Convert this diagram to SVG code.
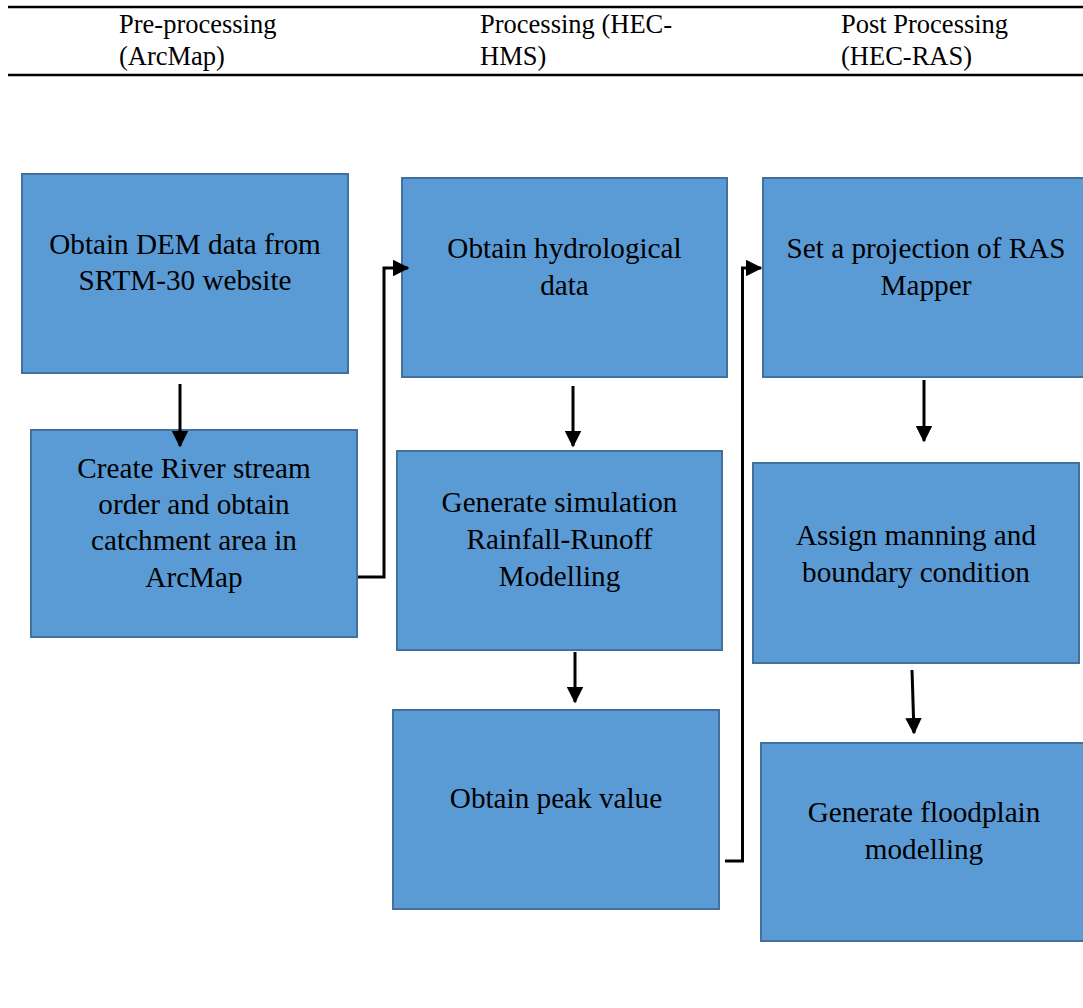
<svg xmlns="http://www.w3.org/2000/svg" width="1083" height="1008" viewBox="0 0 1083 1008" font-family="Liberation Serif, Times New Roman, serif">
<style>
.box{fill:#5B9BD5;stroke:#41719C;stroke-width:2}
.t{font-size:29.2px;fill:#000;text-anchor:middle}
.h{font-size:26.5px;fill:#000}
.c{fill:none;stroke:#000;stroke-width:3}
</style>
<defs>
<marker id="ah" markerWidth="5.5" markerHeight="5.5" refX="5" refY="2.75" orient="auto" markerUnits="strokeWidth">
<path d="M0,0 L5.5,2.75 L0,5.5 Z" fill="#000"/>
</marker>
</defs>
<rect width="1083" height="1008" fill="#fff"/>
<g id="header">
<line x1="8" y1="7" x2="1083" y2="7" stroke="#000" stroke-width="2.5"/>
<line x1="8" y1="75" x2="1083" y2="75" stroke="#000" stroke-width="2.5"/>
<text class="h" x="119" y="33">Pre-processing</text>
<text class="h" x="119" y="65">(ArcMap)</text>
<text class="h" x="480" y="33">Processing (HEC-</text>
<text class="h" x="480" y="65">HMS)</text>
<text class="h" x="841" y="33">Post Processing</text>
<text class="h" x="841" y="65">(HEC-RAS)</text>
</g>
<g id="n1"><rect class="box" x="22" y="174" width="326" height="199"/>
<text class="t" x="185" y="254">Obtain DEM data from</text><text class="t" x="185" y="290">SRTM-30 website</text></g>
<g id="n2"><rect class="box" x="31" y="430" width="326" height="207"/>
<text class="t" x="194" y="478">Create River stream</text><text class="t" x="194" y="514">order and obtain</text><text class="t" x="194" y="550">catchment area in</text><text class="t" x="194" y="587">ArcMap</text></g>
<g id="n3"><rect class="box" x="402" y="178" width="325" height="199"/>
<text class="t" x="564.5" y="258">Obtain hydrological</text><text class="t" x="564.5" y="295">data</text></g>
<g id="n4"><rect class="box" x="397" y="451" width="325" height="199"/>
<text class="t" x="559.5" y="512">Generate simulation</text><text class="t" x="559.5" y="549">Rainfall-Runoff</text><text class="t" x="559.5" y="586">Modelling</text></g>
<g id="n5"><rect class="box" x="393" y="710" width="326" height="199"/>
<text class="t" x="556" y="808">Obtain peak value</text></g>
<g id="n6"><rect class="box" x="763" y="178" width="326" height="199"/>
<text class="t" x="926" y="258">Set a projection of RAS</text><text class="t" x="926" y="295">Mapper</text></g>
<g id="n7"><rect class="box" x="753" y="463" width="326" height="200"/>
<text class="t" x="916" y="545">Assign manning and</text><text class="t" x="916" y="582">boundary condition</text></g>
<g id="n8"><rect class="box" x="761" y="743" width="326" height="198"/>
<text class="t" x="924" y="822">Generate floodplain</text><text class="t" x="924" y="859">modelling</text></g>
<g id="connectors">
<path class="c" d="M180,384 V446" marker-end="url(#ah)"/>
<path class="c" d="M573,386 V446" marker-end="url(#ah)"/>
<path class="c" d="M575,652 V702" marker-end="url(#ah)"/>
<path class="c" d="M924,380 V441" marker-end="url(#ah)"/>
<path class="c" d="M912,670 L914,733" marker-end="url(#ah)"/>
<path class="c" d="M358,577 H384 V268 H408" marker-end="url(#ah)"/>
<path class="c" d="M725,861 H742.5 V268 H761" marker-end="url(#ah)"/>
</g>
</svg>
